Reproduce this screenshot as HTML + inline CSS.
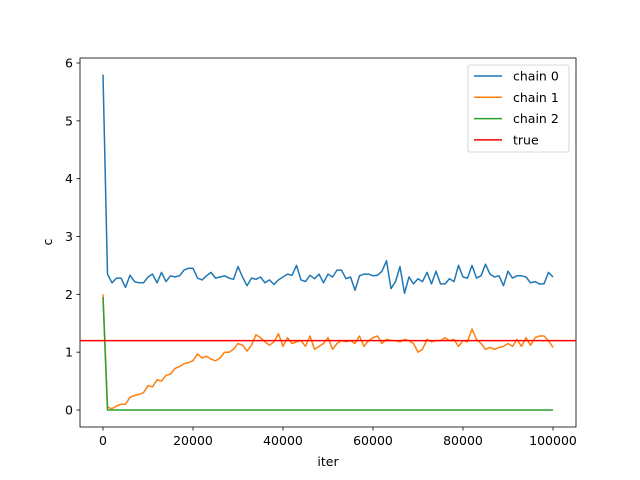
<!DOCTYPE html>
<html><head><meta charset="utf-8"><style>
body{margin:0;background:#fff}
svg{display:block;font-family:"DejaVu Sans","Liberation Sans",sans-serif}
</style></head><body>
<svg id="chart" width="640" height="480"></svg>
<script>
const chain0=[5.8,2.35,2.2,2.28,2.28,2.12,2.33,2.22,2.2,2.2,2.3,2.35,2.2,2.38,2.22,2.32,2.3,2.32,2.42,2.45,2.45,2.28,2.25,2.32,2.38,2.28,2.3,2.32,2.28,2.26,2.48,2.3,2.15,2.28,2.26,2.3,2.2,2.25,2.17,2.25,2.3,2.35,2.33,2.5,2.25,2.22,2.33,2.27,2.35,2.2,2.35,2.3,2.42,2.42,2.27,2.3,2.07,2.32,2.35,2.35,2.32,2.33,2.4,2.58,2.1,2.22,2.48,2.02,2.3,2.18,2.27,2.22,2.38,2.18,2.4,2.18,2.18,2.27,2.22,2.5,2.3,2.28,2.5,2.28,2.32,2.52,2.35,2.3,2.32,2.15,2.4,2.28,2.32,2.32,2.3,2.2,2.22,2.18,2.18,2.38,2.3];
const chain1=[2.0,0.05,0.02,0.07,0.1,0.1,0.22,0.25,0.27,0.3,0.42,0.4,0.52,0.5,0.6,0.62,0.72,0.75,0.8,0.82,0.85,0.97,0.9,0.93,0.88,0.85,0.9,1.0,1.0,1.05,1.15,1.12,1.02,1.12,1.3,1.25,1.18,1.12,1.18,1.32,1.1,1.25,1.15,1.18,1.2,1.1,1.28,1.05,1.1,1.15,1.25,1.05,1.15,1.2,1.18,1.2,1.15,1.28,1.1,1.2,1.25,1.28,1.15,1.22,1.2,1.2,1.18,1.22,1.2,1.15,1.0,1.05,1.22,1.18,1.2,1.2,1.25,1.2,1.22,1.1,1.2,1.18,1.4,1.22,1.15,1.05,1.08,1.05,1.08,1.1,1.15,1.1,1.22,1.1,1.25,1.12,1.25,1.28,1.28,1.2,1.08];
const chain2=[1.95].concat(new Array(100).fill(0));
const trueValue=[1.2];
const xTicks=[0,20000,40000,60000,80000,100000];
const yTicks=[0,1,2,3,4,5,6];
const seriesNames=["chain 0","chain 1","chain 2","true"];
const colors=["#1f77b4","#ff7f0e","#2ca02c","#ff0000"];
const L=80,R=576,T=58,B=427;
const sx=v=>103+(v/100000)*450;
const sy=v=>410-v*57.83;
const svg=document.getElementById('chart');
const NS="http://www.w3.org/2000/svg";
function mk(tag,attrs,parent){const e=document.createElementNS(NS,tag);for(const k in attrs)e.setAttribute(k,attrs[k]);(parent||svg).appendChild(e);return e;}
const frame=mk('rect',{x:L,y:T,width:R-L,height:B-T,fill:'none',stroke:'#000','stroke-width':0.8});


function series(data,color,name){
  const pts=data.map((v,i)=>sx(i*1000).toFixed(1)+','+sy(v).toFixed(1)).join(' ');
  const p=mk('polyline',{points:pts,fill:'none',stroke:color,'stroke-width':1.5,'stroke-linejoin':'round'});
  
  
}
series(chain0,colors[0],'chain-0-line');
series(chain1,colors[1],'chain-1-line');
series(chain2,colors[2],'chain-2-line');
const tl=mk('line',{x1:L,x2:R,y1:sy(trueValue[0]),y2:sy(trueValue[0]),stroke:colors[3],'stroke-width':1.5});


xTicks.forEach(v=>{
  const x=sx(v);
  mk('line',{x1:x,x2:x,y1:B,y2:B+3.5,stroke:'#000','stroke-width':0.8});
  const t=mk('text',{x:x,y:B+18,'font-size':12.5,'text-anchor':'middle'});t.textContent=v;
  
  
});
yTicks.forEach(v=>{
  const y=sy(v);
  mk('line',{x1:L-3.5,x2:L,y1:y,y2:y,stroke:'#000','stroke-width':0.8});
  const t=mk('text',{x:L-7,y:y+4.5,'font-size':12.5,'text-anchor':'end'});t.textContent=v;
  
  
});
const xl=mk('text',{x:328,y:466,'font-size':12.5,'text-anchor':'middle'});xl.textContent='iter';


const yl=mk('text',{x:0,y:0,'font-size':12.5,'text-anchor':'middle',transform:'translate(52,242) rotate(-90)'});yl.textContent='c';


const lg=mk('g',{});


mk('rect',{x:468,y:65,width:101,height:87,rx:2,fill:'#fff','fill-opacity':0.8,stroke:'#ccc','stroke-width':0.8},lg);
seriesNames.forEach((n,i)=>{
  const y=76+i*21.3;
  mk('line',{x1:474,x2:502,y1:y,y2:y,stroke:colors[i],'stroke-width':1.5},lg);
  const t=mk('text',{x:513,y:y+4.5,'font-size':12.5},lg);t.textContent=n;
  
  
});
</script>
</body></html>
